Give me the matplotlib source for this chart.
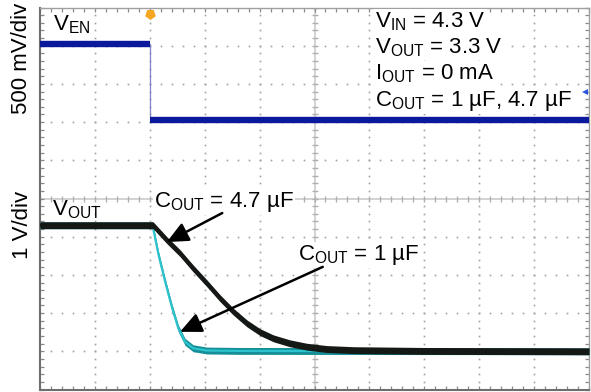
import matplotlib.pyplot as plt
import numpy as np

plt.rcParams['font.family'] = 'Liberation Sans'
plt.rcParams['mathtext.fontset'] = 'custom'
plt.rcParams['mathtext.rm'] = 'Liberation Sans'
plt.rcParams['mathtext.it'] = 'Liberation Sans:italic'

# time axis in screen divisions, trigger at 2 div
ven_t = [0.0, 2.0, 2.0, 10.0]
ven_v = [1.0, 1.0, 0.0, 0.0]          # V, 500 mV/div

vout_47_t = [0.0, 2.06, 2.31, 2.55, 2.79, 3.04, 3.28, 3.52, 3.77, 4.01,
             4.25, 4.55, 4.86, 5.22, 5.71, 7.0, 10.0]
vout_47_v = [3.3, 3.3, 2.91, 2.57, 2.17, 1.78, 1.39, 1.04, 0.73, 0.50,
             0.34, 0.21, 0.12, 0.06, 0.03, 0.01, 0.0]   # V, 1 V/div

vout_1_t = [0.0, 2.05, 2.16, 2.28, 2.40, 2.52, 2.64, 2.79, 3.04, 3.64, 10.0]
vout_1_v = [3.3, 3.3, 2.52, 1.82, 1.17, 0.60, 0.25, 0.08, 0.02, 0.01, 0.0]

conditions = [r'V$_{\mathrm{IN}}$ = 4.3 V',
              r'V$_{\mathrm{OUT}}$ = 3.3 V',
              r'I$_{\mathrm{OUT}}$ = 0 mA',
              r'C$_{\mathrm{OUT}}$ = 1 µF, 4.7 µF']

# channel scale (V/div) and ground position (div)
ven_scale, ven_gnd = 0.5, 7.05
vout_scale, vout_gnd = 1.0, 1.0

fig = plt.figure(figsize=(5.91, 3.92), dpi=100)
ax = fig.add_axes([40 / 591, 2.5 / 392, 549 / 591, 382 / 392])
ax.set_xlim(0, 10)
ax.set_ylim(0, 10)

# scope graticule
minor = np.arange(0, 10.001, 0.2)
dot = '#a0a0a0'
for g in [1, 2, 3, 4, 6, 7, 8, 9]:
    ax.plot(np.full_like(minor, g), minor, ls='none', marker='s', ms=1.2, mew=0, color=dot, zorder=1)
    ax.plot(minor, np.full_like(minor, g), ls='none', marker='s', ms=1.2, mew=0, color=dot, zorder=1)
ax.axvline(5, color='#cfcfcf', lw=1.3, zorder=1)
ax.axhline(5, color='#cfcfcf', lw=1.3, zorder=1)
ax.plot(np.full_like(minor, 5), minor, ls='none', marker='_', ms=5, mew=1, color='#b0b0b0', zorder=1)
ax.plot(minor, np.full_like(minor, 5), ls='none', marker='|', ms=5, mew=1, color='#b0b0b0', zorder=1)

ax.set_xticks(np.arange(0, 11, 1))
ax.set_yticks(np.arange(0, 11, 1))
ax.set_xticks(minor, minor=True)
ax.set_yticks(minor, minor=True)
ax.tick_params(which='both', direction='in', length=3, width=0.9, color='#8a8a8a',
               top=True, right=True, labelbottom=False, labelleft=False)
for side in ['left', 'bottom']:
    ax.spines[side].set_color('#6e6e6e')
    ax.spines[side].set_linewidth(1.5)
for side in ['top', 'right']:
    ax.spines[side].set_color('#a0a0a0')
    ax.spines[side].set_linewidth(1.0)

# enable channel
t = np.array(ven_t)
y = np.array(ven_v) / ven_scale + ven_gnd
blue = '#0b1a9c'
ax.plot(t, y, color='#7f86c8', lw=0.9, zorder=3)
ax.plot(t[:2], y[:2], color=blue, lw=4.6, solid_capstyle='butt', zorder=3)
ax.plot(t[2:], y[2:], color=blue, lw=4.6, solid_capstyle='butt', zorder=3)

# output channel, 1 uF then 4.7 uF on top
t = np.array(vout_1_t)
y = np.array(vout_1_v) / vout_scale + vout_gnd
ax.fill_between(t, y - 0.09, y + 0.09, color='#148e98', lw=0, zorder=4)
ax.plot(t, y, color='#2cc3cc', lw=1.6, zorder=4)

t = np.array(vout_47_t)
y = np.array(vout_47_v) / vout_scale + vout_gnd
black = '#151915'
ax.fill_between(t, y - 0.09, y + 0.09, color=black, lw=0, zorder=5)
ax.plot(t, y, color=black, lw=2.4, zorder=5)

# scope markers
ax.plot(2.0, 9.82, marker=(5, 0, 180), ms=8, color='#f5a623', mew=0, clip_on=False, zorder=6)
ax.plot(9.93, 7.79, marker='<', ms=4, color='#2a55e0', mew=0, clip_on=False, zorder=6)

fs = 16
box = dict(facecolor='white', edgecolor='none', pad=1)
ax.text(0.24, 9.41, r'V$_{\mathrm{EN}}$', fontsize=fs, zorder=7)
ax.text(0.21, 4.55, r'V$_{\mathrm{OUT}}$', fontsize=fs, zorder=7)
for i, line in enumerate(conditions):
    ax.text(6.10, 9.49 - 0.69 * i, line, fontsize=fs, bbox=box, zorder=7)

ax.text(2.08, 4.78, r'C$_{\mathrm{OUT}}$ = 4.7 µF', fontsize=fs, bbox=box, zorder=7)
ax.text(4.70, 3.39, r'C$_{\mathrm{OUT}}$ = 1 µF', fontsize=fs, bbox=box, zorder=7)
arrow = dict(arrowstyle='-|>,head_length=0.65,head_width=0.3', lw=1.8, color='black',
             mutation_scale=20, shrinkA=0, shrinkB=0)
ax.annotate('', xy=(2.31, 3.86), xytext=(3.32, 4.62), arrowprops=arrow, zorder=8)
ax.annotate('', xy=(2.55, 1.51), xytext=(5.15, 3.21), arrowprops=arrow, zorder=8)

fig.text(22 / 591, 1 - 58 / 392, '500 mV/div', rotation=90, fontsize=fs, ha='center', va='center')
fig.text(22 / 591, 1 - 225 / 392, '1 V/div', rotation=90, fontsize=fs, ha='center', va='center')

fig.savefig('out.png', dpi=100)
